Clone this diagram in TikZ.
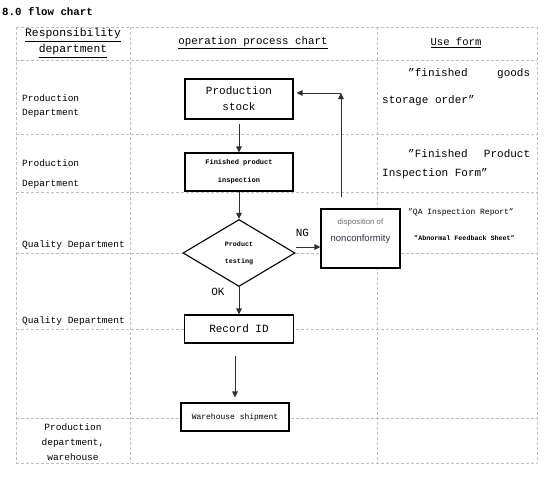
\documentclass[tikz,border=0pt]{standalone}
\usepackage{fontspec}
\setmonofont{Liberation Mono}
\setsansfont{Liberation Sans}
\usepackage{tikz}
\usetikzlibrary{arrows.meta,positioning,shapes.geometric}
\definecolor{gridgray}{HTML}{BFBFBF}
\definecolor{inkgray}{HTML}{303030}
\definecolor{dispink}{HTML}{6E6A78}
\definecolor{ncfink}{HTML}{2E3050}

\begin{document}
\begin{tikzpicture}[x=1pt, y=-1pt, font=\ttfamily,
  grid/.style={gridgray, line width=0.8pt, dash pattern=on 3pt off 2pt},
  box/.style={draw, fill=white, line width=1.1pt, inner sep=0pt},
  arr/.style={inkgray, line width=1pt, -{Triangle[length=6pt,width=5.5pt]}},
  dept/.style={anchor=west, align=left, inner sep=0pt, font=\ttfamily\fontsize{9.5}{14}\selectfont},
  form/.style={anchor=west, align=left, inner sep=0pt, font=\ttfamily\fontsize{11}{19}\selectfont}]

  \useasboundingbox (0,0) rectangle (550,498);
  \node[anchor=west, inner sep=0pt, font=\ttfamily\bfseries\fontsize{10.8}{12}\selectfont] (title) at (2,12) {8.0 flow chart};

  % table grid
  \foreach \y in {27,60,134,192,253,329,418,463}
    \draw[grid] (16,\y) -- (537,\y);
  \foreach \x in {16,130,377,537}
    \draw[grid] (\x,27) -- (\x,463);

  % header row
  \node[align=center, font=\ttfamily\fontsize{11.4}{16}\selectfont] (hresp) at (73,43) {\underline{Responsibility}\\\underline{department}};
  \node[font=\ttfamily\fontsize{10.8}{12}\selectfont] (hproc) at (253,43) {\underline{operation process chart}};
  \node[font=\ttfamily\fontsize{10.6}{12}\selectfont] (hform) at (456,43) {\underline{Use form}};

  % responsibility column
  \node[dept] (dep1) at (22,106) {Production\\Department};
  \node[dept, font=\ttfamily\fontsize{9.5}{20}\selectfont] (dep2) at (22,174) {Production\\Department};
  \node[dept] (dep3) at (22,245) {Quality Department};
  \node[dept] (dep4) at (22,321) {Quality Department};
  \node[align=center, font=\ttfamily\fontsize{9.5}{15}\selectfont] (dep5) at (73,442) {Production\\department,\\warehouse};

  % process chart
  \node[box, minimum width=108pt, minimum height=40pt, align=center, font=\ttfamily\fontsize{11}{16}\selectfont] (stock) at (239,99) {Production\\stock};
  \node[box, minimum width=108pt, minimum height=38pt, align=center, font=\ttfamily\bfseries\fontsize{7}{18}\selectfont] (insp) at (239,172) {Finished product\\inspection};
  \node[box, shape=diamond, minimum width=112pt, minimum height=67pt, align=center, font=\ttfamily\bfseries\fontsize{6.7}{17}\selectfont] (test) at (239,253) {Product\\testing};
  \node[box, minimum width=109pt, minimum height=28pt, font=\ttfamily\fontsize{11}{12}\selectfont] (rec) at (239,329) {Record ID};
  \node[box, minimum width=108pt, minimum height=28pt, font=\ttfamily\fontsize{8}{10}\selectfont] (ship) at (235,417) {Warehouse shipment};
  \node[box, minimum width=79pt, minimum height=59pt] (ncf) at (360.5,238.5) {};
  \node[align=center, text=ncfink, font=\sffamily\fontsize{9.5}{17}\selectfont] (ncftxt) at (360.5,231) {{\color{dispink}\fontsize{7.8}{9}\selectfont disposition of}\\nonconformity};

  \node[font=\ttfamily\fontsize{11}{12}\selectfont] (ok) at (218,292) {OK};
  \node[font=\ttfamily\fontsize{11}{12}\selectfont] (ng) at (302.5,233) {NG};

  \draw[arr, shorten <=4pt] (stock.south) -- (insp.north);
  \draw[arr] (insp.south) -- (test.north);
  \draw[arr] (test.south) -- (rec.north);
  \draw[arr, shorten <=12pt, shorten >=5pt] (rec.south -| ship.north) -- (ship.north);
  \draw[arr] ([yshift=6pt]test.east) -- ([yshift=6pt]test.east -| ncf.west);

  % back to stock
  \coordinate (corner) at (341,93);
  \draw[arr, shorten <=11pt] (ncf.north -| corner) -- (corner);
  \draw[arr, shorten >=3pt] (corner) -- (corner -| stock.east);

  % use form column
  \node[form, font=\ttfamily\fontsize{11}{27}\selectfont] (form1) at (382,87.5) {\makebox[148pt][l]{\hspace*{26pt}”finished\hfill goods}\\storage order”};
  \node[form] (form2) at (382,164.5) {\makebox[148pt][l]{\hspace*{26pt}”Finished\hfill Product}\\Inspection Form”};
  \node[font=\ttfamily\fontsize{8}{10}\selectfont] (form3) at (461,212) {”QA Inspection Report”};
  \node[font=\ttfamily\bfseries\fontsize{6.7}{8}\selectfont] (form4) at (464.5,238) {”Abnormal Feedback Sheet”};
\end{tikzpicture}
\end{document}
